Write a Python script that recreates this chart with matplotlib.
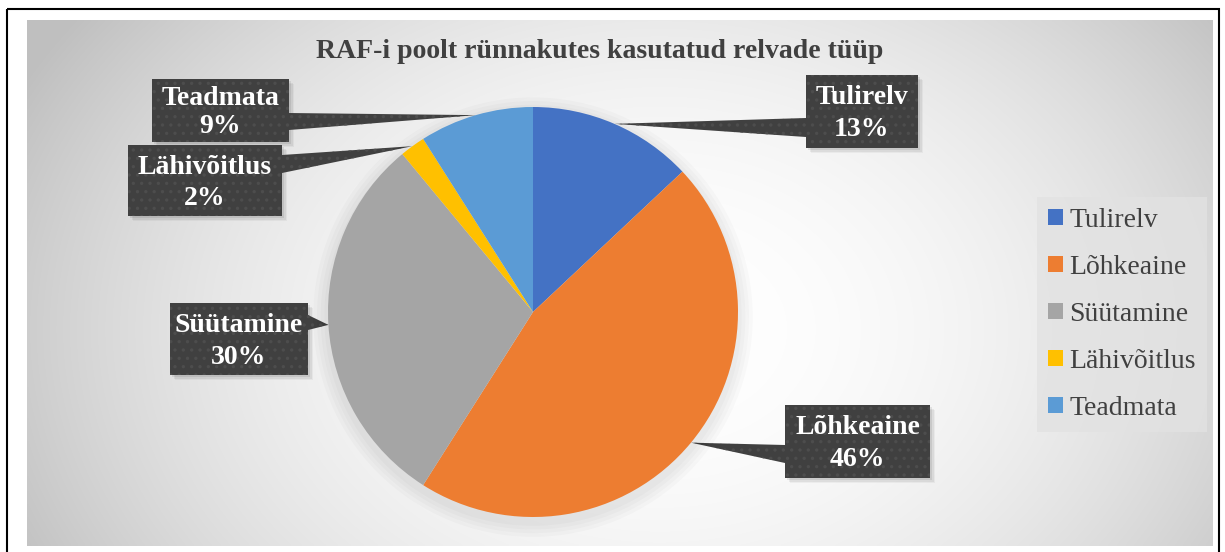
import numpy as np
import matplotlib
matplotlib.use("Agg")
import matplotlib.pyplot as plt
from matplotlib.patches import Rectangle, Polygon, Circle

# ---- data ----
categories = ["Tulirelv", "Lõhkeaine", "Süütamine", "Lähivõitlus", "Teadmata"]
shares = [13, 46, 30, 2, 9]
colors = ["#4472C4", "#ED7D31", "#A5A5A5", "#FFC000", "#5B9BD5"]
title = "RAF-i poolt rünnakutes kasutatud relvade tüüp"

# ---- layout (pixels, y down) ----
W, H = 1225, 552
# callout boxes: (x0, y0, x1, y1), pointer side, pointer base (ya, yb)
boxes = {
    "Tulirelv":    ((806, 75, 918, 148), "left", (118, 137)),
    "Lõhkeaine":   ((785, 405, 930, 478), "left", (445, 463)),
    "Süütamine":   ((170, 303, 308, 375), "right", (315, 330)),
    "Lähivõitlus": ((128, 145, 282, 216), "right", (155, 173)),
    "Teadmata":    ((152, 79, 289, 142), "right", (113, 130)),
}

plt.rcParams['font.family'] = ['Liberation Serif', 'DejaVu Serif']
plt.rcParams['hatch.linewidth'] = 1.2

fig = plt.figure(figsize=(W / 100, H / 100), dpi=100)
bg = fig.add_axes([0, 0, 1, 1])
bg.set_xlim(0, W)
bg.set_ylim(H, 0)
bg.axis('off')

# outer border
bg.add_patch(Rectangle((7, 9), 1212, 560, fill=False, edgecolor='black', lw=1.5, zorder=1))

# gradient panel
px0, py0, px1, py1 = 27, 20, 1213, 546
gx = np.linspace(px0, px1, 400)
gy = np.linspace(py0, py1, 200)
GX, GY = np.meshgrid(gx, gy)
d = np.sqrt(((GX - 660) / 720.0) ** 2 + ((GY - 330) / 540.0) ** 2)
val = 1.0 - 0.25 * np.clip(d, 0, 1) ** 2.0
img = np.dstack([val, val, val])
bg.imshow(img, extent=(px0, px1, py1, py0), aspect='auto', zorder=0, interpolation='bilinear')

# title
bg.text(600, 52, title, ha='center', va='center', fontsize=20, fontweight='bold',
        color='#404040', zorder=5)

# pie axes
cx, cy, R = 533, 312, 205
axp = fig.add_axes([0, 0, 1, 1])
# soft shadow
for i in range(4):
    axp.add_patch(Circle((0.0, -0.025), 1.0 + 0.018 * (i + 1), color='#000000', alpha=0.018,
                         lw=0, zorder=0))
wedges, _ = axp.pie(shares, colors=colors, startangle=90, counterclock=False,
                    wedgeprops=dict(linewidth=0))
for w in wedges:
    w.set_zorder(2)
axp.set_xlim(-1.15, 1.15)
axp.set_ylim(-1.15, 1.15)
axp.set_position([(cx - R * 1.15) / W, (H - cy - R * 1.15) / H, 2 * R * 1.15 / W, 2 * R * 1.15 / H])
axp.set_aspect('auto')
axp.axis('off')
axp.patch.set_alpha(0)

to_bg = axp.transData + bg.transData.inverted()

box_color = '#404040'
dot_color = '#4d4d4d'
for w, name, val_ in zip(wedges, categories, shares):
    (x0, y0, x1, y1), side, (ya, yb) = boxes[name]
    th = np.deg2rad((w.theta1 + w.theta2) / 2)
    tx, ty = to_bg.transform((np.cos(th), np.sin(th)))
    bx = x0 if side == "left" else x1
    # shadow
    for k, al in enumerate([0.08, 0.06, 0.04]):
        off = 2 + k * 1.5
        bg.add_patch(Rectangle((x0 + off, y0 + off), x1 - x0, y1 - y0, facecolor='black',
                               alpha=al, lw=0, zorder=6))
    pointer = Polygon([(bx, ya), (tx, ty), (bx, yb)], closed=True, facecolor=box_color,
                      edgecolor=dot_color, lw=0, hatch='..', zorder=7)
    bg.add_patch(pointer)
    bg.add_patch(Rectangle((x0, y0), x1 - x0, y1 - y0, facecolor=box_color,
                           edgecolor=dot_color, lw=0, hatch='..', zorder=8))
    mx = (x0 + x1) / 2
    h = y1 - y0
    bg.text(mx, y0 + 0.31 * h, name, ha='center', va='center', fontsize=20,
            fontweight='bold', color='white', zorder=9)
    bg.text(mx, y0 + 0.75 * h, f"{val_}%", ha='center', va='center', fontsize=20,
            fontweight='bold', color='white', zorder=9)

# legend
leg = fig.legend(wedges, categories, loc='upper left',
                 bbox_to_anchor=(1037 / W, 1 - 197 / H), frameon=True,
                 fontsize=20, handlelength=0.52, handleheight=0.52, handletextpad=0.25,
                 labelspacing=0.79, borderpad=0.4, borderaxespad=0, fancybox=False)
leg.get_frame().set_facecolor('#e2e2e2')
leg.get_frame().set_edgecolor('none')
for t in leg.get_texts():
    t.set_color('#404040')

fig.savefig('out.png', dpi=100)
